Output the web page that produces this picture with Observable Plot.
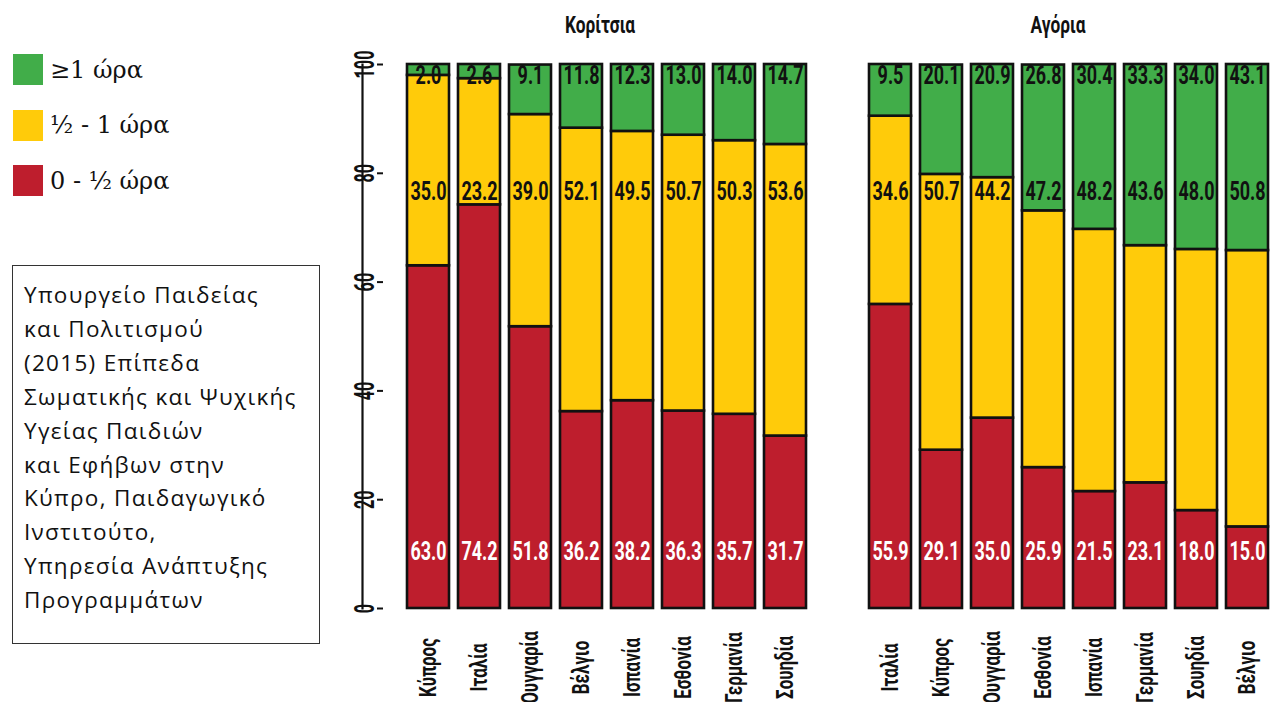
<!DOCTYPE html>
<html>
<head>
<meta charset="utf-8">
<script src="https://cdn.jsdelivr.net/npm/d3@7"></script>
<script src="https://cdn.jsdelivr.net/npm/@observablehq/plot@0.6"></script>
<style>
  html, body { margin: 0; padding: 0; background: #fff; }
  body { width: 1270px; height: 702px; position: relative; overflow: hidden; }
  .cond { font-family: Roboto, "Noto Sans", sans-serif; font-weight: bold; }
  #legend { position: absolute; left: 13px; top: 54px; font-family: "DejaVu Serif", "Liberation Serif", serif; font-size: 24px; color: #111; }
  .leg { display: flex; align-items: center; height: 31px; margin-bottom: 24.5px; }
  .sw { width: 30px; height: 31px; margin-right: 7px; }
  #source { position: absolute; left: 12px; top: 265px; width: 295px; height: 355px; border: 1.5px solid #333; padding: 12px 0 10px 11px;
            font-family: "Open Sans", "Noto Sans", sans-serif; font-size: 22.5px; letter-spacing: 1.3px; line-height: 33.9px; color: #111; }
  .title { position: absolute; top: 11px; font-size: 24px; color: #111; transform: translateX(-50%) scaleX(0.72); white-space: nowrap; }
  .plot { position: absolute; top: 0; }
</style>
</head>
<body>
<div id="legend"></div>
<div id="source">Υπουργείο Παιδείας<br>και Πολιτισμού<br>(2015) Επίπεδα<br>Σωματικής και Ψυχικής<br>Υγείας Παιδιών<br>και Εφήβων στην<br>Κύπρο, Παιδαγωγικό<br>Ινστιτούτο,<br>Υπηρεσία Ανάπτυξης<br>Προγραμμάτων</div>
<div class="title cond" style="left:600px">Κορίτσια</div>
<div class="title cond" style="left:1058px">Αγόρια</div>
<div id="girls" class="plot" style="left:330px"></div>
<div id="boys" class="plot" style="left:840px"></div>
<script>
// Categories (legend order top to bottom)
const categories = ["≥1 ώρα", "½ - 1 ώρα", "0 - ½ ώρα"];
const colors = ["#41ad49", "#ffcb0a", "#be1e2d"];

// Girls
const girlsCountries = ["Κύπρος", "Ιταλία", "Ουγγαρία", "Βέλγιο", "Ισπανία", "Εσθονία", "Γερμανία", "Σουηδία"];
const girlsLow  = [63.0, 74.2, 51.8, 36.2, 38.2, 36.3, 35.7, 31.7];
const girlsMid  = [35.0, 23.2, 39.0, 52.1, 49.5, 50.7, 50.3, 53.6];
const girlsHigh = [2.0, 2.6, 9.1, 11.8, 12.3, 13.0, 14.0, 14.7];

// Boys
const boysCountries = ["Ιταλία", "Κύπρος", "Ουγγαρία", "Εσθονία", "Ισπανία", "Γερμανία", "Σουηδία", "Βέλγιο"];
const boysLow  = [55.9, 29.1, 35.0, 25.9, 21.5, 23.1, 18.0, 15.0];
const boysMid  = [34.6, 50.7, 44.2, 47.2, 48.2, 43.6, 48.0, 50.8];
const boysHigh = [9.5, 20.1, 20.9, 26.8, 30.4, 33.3, 34.0, 43.1];

const yTicks = [0, 20, 40, 60, 80, 100];

// legend
const leg = document.getElementById("legend");
categories.forEach((c, i) => {
  const d = document.createElement("div");
  d.className = "leg";
  d.innerHTML = `<div class="sw" style="background:${colors[i]}"></div><span>${c}</span>`;
  leg.appendChild(d);
});

function buildRows(countries, low, mid, high) {
  const rows = [];
  countries.forEach((c, i) => {
    const a = low[i], b = low[i] + mid[i], t = Math.min(100, b + high[i]);
    rows.push({country: c, cat: categories[2], y1: 0, y2: a, v: low[i]});
    rows.push({country: c, cat: categories[1], y1: a, y2: b, v: mid[i]});
    rows.push({country: c, cat: categories[0], y1: b, y2: t, v: high[i]});
  });
  return rows;
}

const labelFont = `Roboto, "Noto Sans", sans-serif`;
const lab = {fontSize: 25, fontWeight: "bold", fontFamily: labelFont, className: "vlab", text: d => d.v.toFixed(1)};

function chart(countries, low, mid, high, opts) {
  const rows = buildRows(countries, low, mid, high);
  const marks = [
    Plot.barY(rows, {x: "country", y1: "y1", y2: "y2", fill: "cat", stroke: "#111", strokeWidth: 2.6}),
    Plot.text(rows.filter(d => d.cat === categories[0]), {...lab, x: "country", y: () => 100, dy: 11, fill: "#111"}),
    Plot.text(rows.filter(d => d.cat === categories[1]), {...lab, x: "country", y: () => 80, dy: 19, fill: "#111"}),
    Plot.text(rows.filter(d => d.cat === categories[2]), {...lab, x: "country", y: () => 0, dy: -57, fill: "#fff"}),
    Plot.axisX({tickSize: 0, tickRotate: -90, tickPadding: 59, fontSize: 23, fontWeight: "bold", fontFamily: labelFont, label: null, textAnchor: "middle", className: "xlab"})
  ];
  if (opts.yAxis) {
    marks.push(Plot.axisY({ticks: yTicks, tickSize: 6, tickPadding: 4, tickRotate: -90, fontSize: 27, fontWeight: "bold", fontFamily: labelFont, label: null, strokeWidth: 2, className: "ylab"}));
    marks.push(Plot.frame({anchor: "left", strokeWidth: 2.2, stroke: "#111", insetLeft: -opts.insetLeft}));
  }
  const svg = Plot.plot({
    width: opts.width,
    height: 702,
    marginTop: 64,
    marginBottom: 94,
    marginLeft: opts.marginLeft,
    marginRight: opts.marginRight,
    style: {background: "transparent", color: "#111", overflow: "visible"},
    x: {domain: countries, paddingInner: 0.167, paddingOuter: 0, insetLeft: opts.insetLeft, axis: null},
    y: {domain: [0, 100], axis: null},
    color: {domain: categories, range: colors},
    marks
  });
  // condense text along its reading direction
  const squeeze = (sel, s) => svg.querySelectorAll(sel).forEach(t => {
    const tr = t.getAttribute("transform");
    if (tr) t.setAttribute("transform", tr + ` scale(${s},1)`);
    else {
      const x = +t.getAttribute("x") || 0, y = +t.getAttribute("y") || 0;
      t.removeAttribute("x"); t.removeAttribute("y");
      t.setAttribute("transform", `translate(${x},${y}) scale(${s},1)`);
    }
  });
  squeeze(".vlab text", 0.72);
  squeeze(".xlab text", 0.74);
  squeeze(".ylab text", 0.6);
  return svg;
}

document.getElementById("girls").appendChild(chart(girlsCountries, girlsLow, girlsMid, girlsHigh, {width: 480, marginLeft: 53, marginRight: 1, insetLeft: 21, yAxis: true}));
document.getElementById("boys").appendChild(chart(boysCountries, boysLow, boysMid, boysHigh, {width: 430, marginLeft: 28, marginRight: 1.5, insetLeft: 0, yAxis: false}));
</script>
</body>
</html>
